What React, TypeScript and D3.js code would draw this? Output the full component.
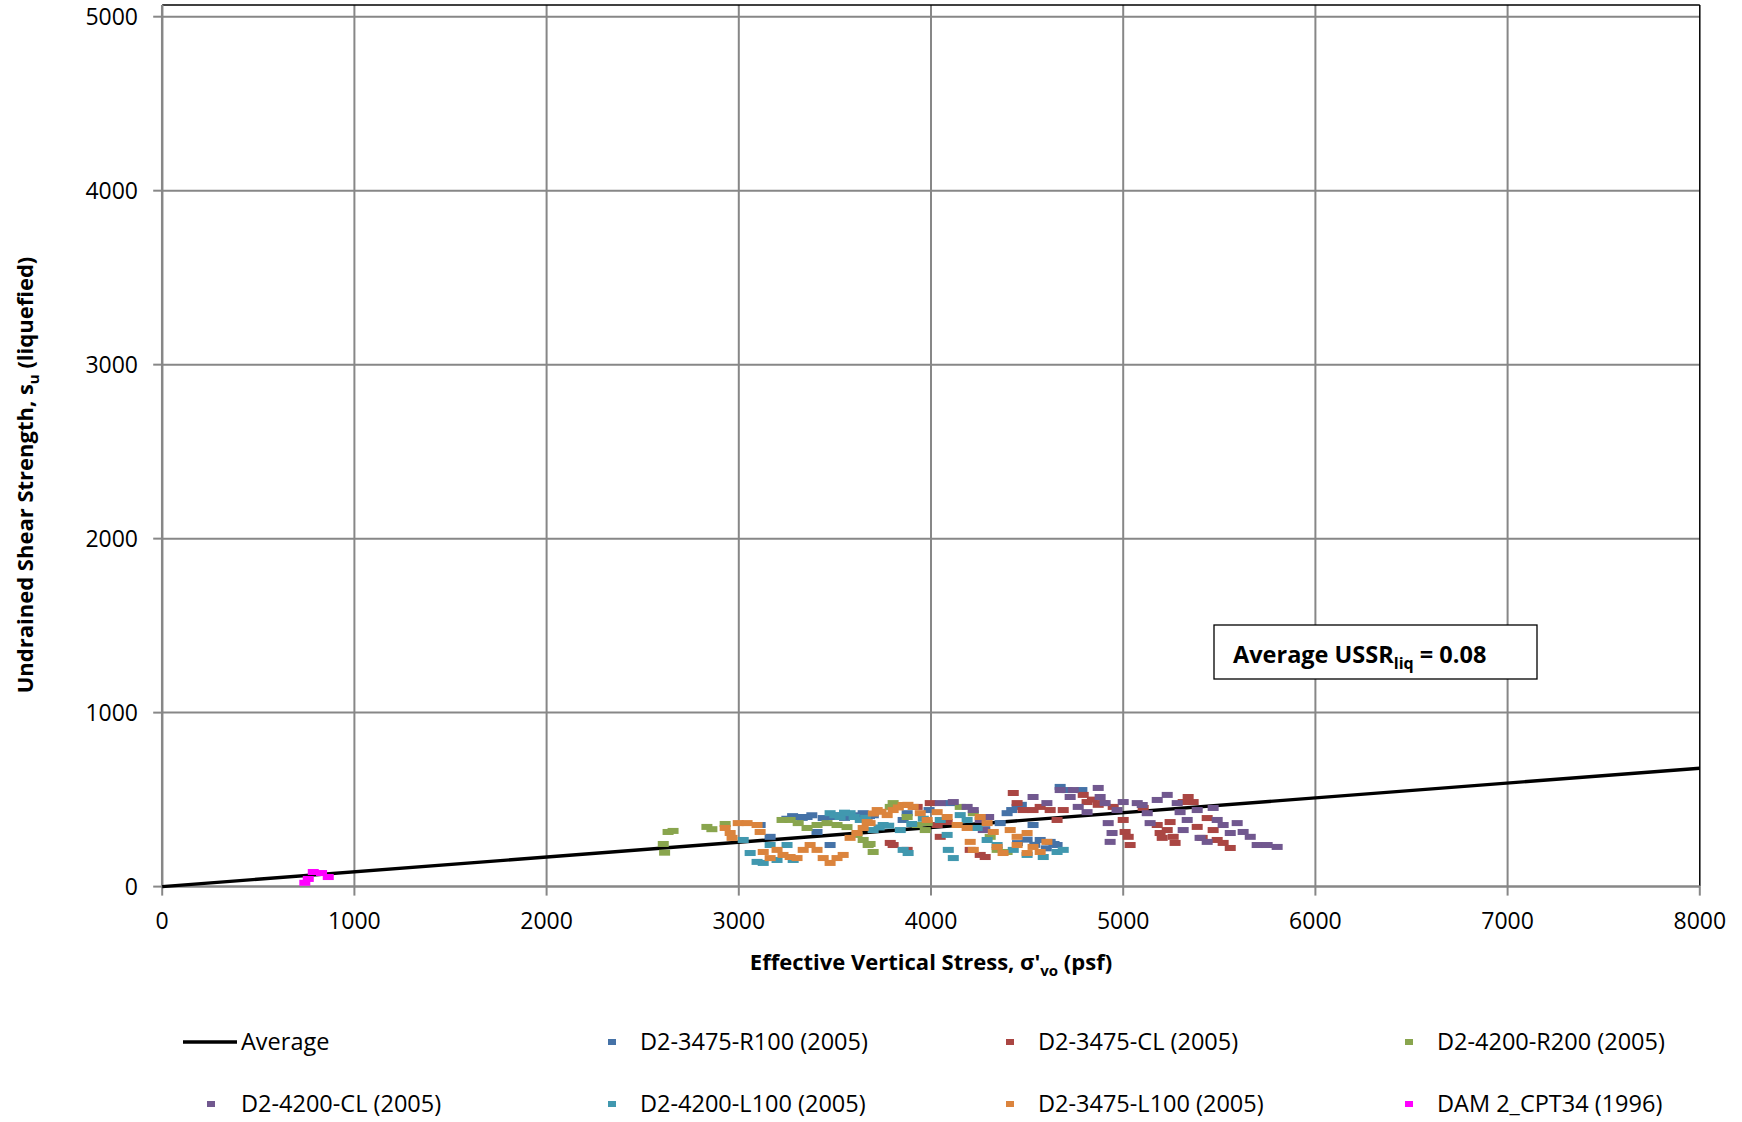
import React from "react";
import { scaleLinear, line } from "d3";

// ---- data ----
const xTicks = [0, 1000, 2000, 3000, 4000, 5000, 6000, 7000, 8000];
const yTicks = [0, 1000, 2000, 3000, 4000, 5000];

const averageLine: [number, number][] = [[0, 0], [8000, 680]];

const d2_3475_R100: [number, number][] = [
  [3111, 354], [3163, 286], [3303, 400], [3355, 400], [3407, 314], [3439, 394], [3475, 239],
  [3491, 400], [3579, 400], [3647, 422], [3855, 383], [3876, 422], [4100, 480], [4360, 365],
  [4396, 422], [4448, 458], [4531, 354], [4568, 268], [4620, 257], [4656, 239], [4672, 573],
  [4708, 555], [4785, 555], [3250, 390], [3700, 410], [3990, 440], [4280, 330], [4600, 220],
  [3280, 405], [3330, 395], [3380, 410], [3520, 410], [3550, 395], [3620, 410], [3680, 405],
  [4450, 250], [4500, 270], [4540, 240], [4640, 245], [4420, 440], [4470, 470],
];

const d2_3475_CL: [number, number][] = [
  [3788, 251], [3803, 239], [3876, 211], [3928, 458], [3996, 480], [4032, 354], [4048, 286],
  [4084, 371], [4204, 211], [4256, 182], [4282, 170], [4428, 538], [4448, 480], [4479, 440],
  [4531, 440], [4568, 458], [4620, 440], [4656, 383], [4688, 440], [4792, 527], [4812, 486],
  [4896, 480], [4948, 458], [5000, 383], [5010, 314], [5026, 286], [5036, 239], [5104, 452],
  [5177, 354], [5192, 308], [5203, 280], [5229, 325], [5244, 371], [5260, 286], [5270, 251],
  [5312, 486], [5338, 515], [5364, 486], [5385, 343], [5411, 280], [5437, 394], [5468, 325],
  [5489, 268], [5520, 251], [5557, 222], [4840, 500], [4870, 470],
];

const d2_4200_R200: [number, number][] = [
  [2607, 245], [2614, 195], [2632, 314], [2658, 320], [2834, 343], [2860, 330], [2929, 360],
  [3225, 383], [3267, 383], [3309, 365], [3355, 337], [3407, 354], [3459, 365], [3511, 354],
  [3563, 342], [3615, 297], [3647, 268], [3673, 239], [3683, 245], [3699, 199], [3788, 458],
  [3803, 480], [3876, 400], [3928, 354], [3970, 325], [3980, 365], [4152, 458], [4220, 422],
  [4308, 286], [4344, 211], [4396, 199],
];

const d2_4200_CL: [number, number][] = [
  [4048, 480], [4116, 486], [4188, 458], [4256, 383], [4272, 325], [4531, 515], [4603, 480],
  [4672, 555], [4724, 515], [4740, 555], [4766, 458], [4812, 428], [4870, 567], [4880, 515],
  [4906, 480], [4922, 365], [4942, 308], [4932, 257], [4968, 440], [5000, 486], [5073, 480],
  [5099, 469], [5125, 422], [5140, 365], [5177, 498], [5229, 527], [5281, 480], [5296, 428],
  [5312, 325], [5333, 383], [5385, 440], [5400, 280], [5437, 257], [5468, 452], [5489, 383],
  [5520, 354], [5557, 308], [5593, 365], [5624, 314], [5661, 286], [5697, 239], [5749, 239],
  [5801, 228], [4220, 440], [4300, 400],
];

const d2_4200_L100: [number, number][] = [
  [3023, 268], [3059, 193], [3095, 142], [3127, 136], [3163, 239], [3199, 153], [3251, 239],
  [3283, 153], [3475, 422], [3527, 400], [3579, 422], [3632, 383], [3699, 325], [3751, 354],
  [3840, 325], [3855, 211], [3881, 193], [4048, 383], [4084, 297], [4090, 211], [4116, 164],
  [4152, 411], [4188, 383], [4240, 337], [4292, 268], [4344, 239], [4428, 211], [4500, 182],
  [4584, 170], [4656, 199], [4688, 211], [3500, 410], [3550, 425], [3600, 400], [3660, 395],
  [3730, 340], [3780, 350], [3900, 360], [3960, 390],
];

const d2_3475_L100: [number, number][] = [
  [2929, 337], [2955, 308], [2965, 280], [2997, 365], [3043, 365], [3095, 354], [3111, 314],
  [3127, 199], [3163, 164], [3199, 211], [3230, 182], [3267, 170], [3303, 164], [3335, 211],
  [3371, 239], [3407, 211], [3439, 164], [3475, 136], [3511, 164], [3543, 182], [3579, 280],
  [3615, 308], [3647, 337], [3683, 365], [3668, 371], [3720, 440], [3772, 411], [3803, 440],
  [3855, 469], [3907, 458], [3944, 422], [3980, 383], [4032, 428], [4084, 400], [4136, 354],
  [4188, 337], [4204, 257], [4220, 211], [4256, 400], [4292, 365], [4324, 314], [4344, 228],
  [4375, 193], [4412, 325], [4448, 286], [4448, 239], [4500, 308], [4531, 228], [4568, 199],
  [4500, 193], [4603, 257], [3700, 420], [3740, 430], [3830, 455], [3880, 470],
];

const dam2_cpt34: [number, number][] = [
  [742, 22], [760, 44], [786, 84], [829, 78], [864, 55],
];

const scatterSeries = [
  { name: "D2-3475-R100 (2005)", color: "#4572A7", pts: d2_3475_R100 },
  { name: "D2-3475-CL (2005)", color: "#AA4643", pts: d2_3475_CL },
  { name: "D2-4200-R200 (2005)", color: "#89A54E", pts: d2_4200_R200 },
  { name: "D2-4200-CL (2005)", color: "#71588F", pts: d2_4200_CL },
  { name: "D2-4200-L100 (2005)", color: "#4198AF", pts: d2_4200_L100 },
  { name: "D2-3475-L100 (2005)", color: "#DB843D", pts: d2_3475_L100 },
  { name: "DAM 2_CPT34 (1996)", color: "#FF00FF", pts: dam2_cpt34 },
];

const FONT = "'Open Sans', 'Liberation Sans', sans-serif";

export default function App() {
  const W = 1742, H = 1122;
  const left = 162.2, right = 1699.8, top = 16.7, bottom = 886.6;
  const frameTop = 5;

  const x = scaleLinear().domain([0, 8000]).range([left, right]);
  const y = scaleLinear().domain([0, 5000]).range([bottom, top]);
  const avgPath = line<[number, number]>().x(d => x(d[0])).y(d => y(d[1]))(averageLine);

  const grid = "#878787";

  // legend: Average + 7 series, 4 columns x 2 rows
  const legendCols = [183, 612, 1010, 1409];
  const legendRows = [1042, 1104];
  const legendItems = [{ name: "Average", color: "#000", isLine: true }, ...scatterSeries.map(s => ({ ...s, isLine: false }))];

  return (
    <div style={{ position: "absolute", left: 0, top: 0 }}>
      <svg width={W} height={H} style={{ display: "block", background: "#fff" }} fontFamily={FONT}>
        {/* gridlines */}
        {xTicks.slice(1, -1).map(t => (
          <line key={"gx" + t} x1={x(t)} x2={x(t)} y1={frameTop} y2={bottom} stroke={grid} strokeWidth={2} />
        ))}
        {yTicks.slice(1).map(t => (
          <line key={"gy" + t} x1={left} x2={right} y1={y(t)} y2={y(t)} stroke={grid} strokeWidth={2} />
        ))}

        {/* frame */}
        <line x1={left} x2={right} y1={frameTop} y2={frameTop} stroke="#000" strokeWidth={1.5} />
        <line x1={right} x2={right} y1={frameTop} y2={bottom} stroke="#000" strokeWidth={1.5} />
        <line x1={left} x2={left} y1={frameTop} y2={bottom + 1} stroke={grid} strokeWidth={2.5} />
        <line x1={left - 1} x2={right} y1={bottom} y2={bottom} stroke={grid} strokeWidth={2.5} />

        {/* ticks + labels */}
        {xTicks.map(t => (
          <g key={"xt" + t}>
            <line x1={x(t)} x2={x(t)} y1={bottom} y2={bottom + 9} stroke={grid} strokeWidth={2} />
            <text x={x(t)} y={929} textAnchor="middle" fontSize={23} fill="#000">{t}</text>
          </g>
        ))}
        {yTicks.map(t => (
          <g key={"yt" + t}>
            <line x1={left - 9} x2={left} y1={y(t)} y2={y(t)} stroke={grid} strokeWidth={2} />
            <text x={138} y={y(t) + 8} textAnchor="end" fontSize={23} fill="#000">{t}</text>
          </g>
        ))}

        {/* average line */}
        <path d={avgPath ?? ""} fill="none" stroke="#000" strokeWidth={3.4} />

        {/* scatter markers (dash) */}
        {scatterSeries.map(s => (
          <g key={s.name}>
            {s.pts.map((p, i) => (
              <rect key={i} x={x(p[0]) - 5.5} y={y(p[1]) - 3} width={11} height={6} fill={s.color} />
            ))}
          </g>
        ))}

        {/* annotation box */}
        <rect x={1214} y={625} width={323} height={54} fill="#fff" stroke="#000" strokeWidth={1.3} />
        <text x={1233} y={663} fontSize={23.5} fontWeight="bold" fill="#000">
          Average USSR<tspan fontSize={16} dy={6}>liq</tspan><tspan dy={-6}> = 0.08</tspan>
        </text>

        {/* axis titles */}
        <text x={931} y={970} textAnchor="middle" fontSize={22} fontWeight="bold" fill="#000">
          Effective Vertical Stress, σ'<tspan fontSize={15} dy={6}>vo</tspan><tspan dy={-6}> (psf)</tspan>
        </text>
        <text transform={`translate(33, 475) rotate(-90)`} textAnchor="middle" fontSize={22} fontWeight="bold" fill="#000">
          Undrained Shear Strength, s<tspan fontSize={15} dy={6}>u</tspan><tspan dy={-6}> (liquefied)</tspan>
        </text>

        {/* legend */}
        {legendItems.map((it, i) => {
          const col = i % 4, row = Math.floor(i / 4);
          const cx = legendCols[col], cy = legendRows[row];
          const mx = row === 1 && col === 0 ? 211 : cx;
          const tx = row === 1 && col === 0 ? 241 : cx + 28;
          return (
            <g key={"lg" + i}>
              {it.isLine ? (
                <>
                  <line x1={cx} x2={cx + 54} y1={cy} y2={cy} stroke="#000" strokeWidth={3.4} />
                  <text x={cx + 58} y={cy + 8} fontSize={23.5} fill="#000">{it.name}</text>
                </>
              ) : (
                <>
                  <rect x={mx - 4} y={cy - 3} width={8} height={6} fill={it.color} />
                  <text x={tx} y={cy + 8} fontSize={23.5} fill="#000">{it.name}</text>
                </>
              )}
            </g>
          );
        })}
      </svg>
    </div>
  );
}
